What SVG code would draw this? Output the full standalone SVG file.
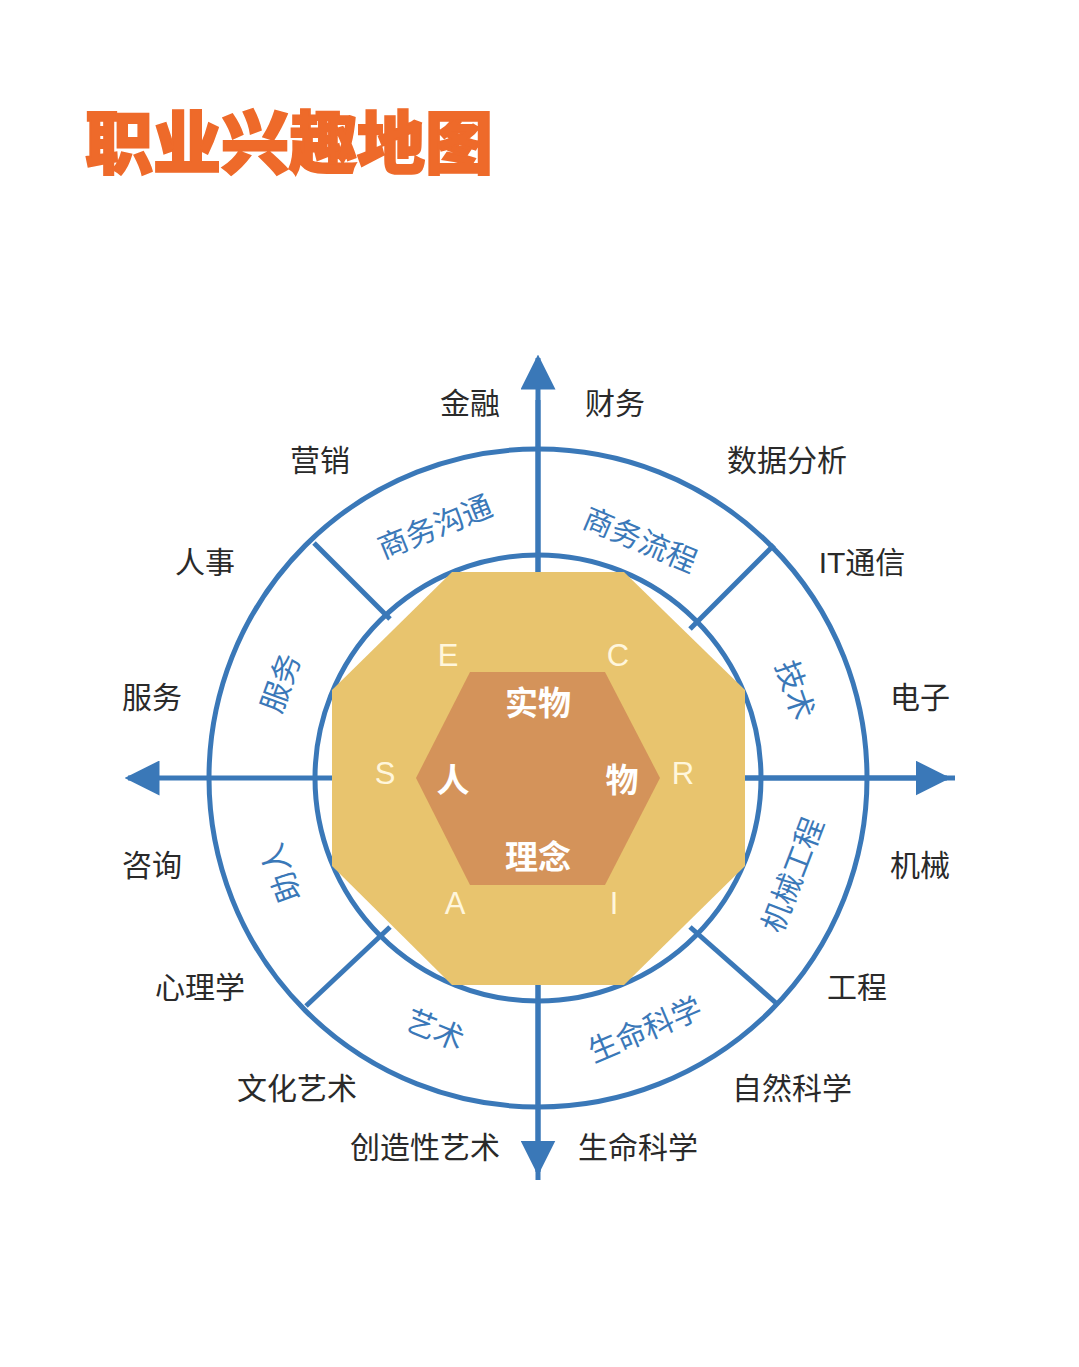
<svg xmlns="http://www.w3.org/2000/svg" width="1079" height="1367" viewBox="0 0 1079 1367">
<style>
.t{font-family:"Liberation Sans","Noto Sans CJK SC",sans-serif;}
.o{font-size:30px;fill:#2a2a2a;text-anchor:middle;dominant-baseline:central;}
.r{font-size:30px;fill:#3a78b8;text-anchor:middle;dominant-baseline:central;}
.l{font-size:31px;fill:#fff6dc;text-anchor:middle;dominant-baseline:central;}
.h{font-size:33px;fill:#fff;font-weight:bold;text-anchor:middle;dominant-baseline:central;}
.b{stroke:#3a78b8;stroke-width:5;fill:none;}
</style>
<defs>
<marker id="ar" viewBox="0 0 10 10" refX="9" refY="5" markerWidth="7" markerHeight="7" orient="auto" markerUnits="strokeWidth"><path d="M0,0L10,5L0,10z" fill="#3a78b8"/></marker>
</defs>
<rect width="1079" height="1367" fill="#fff"/>
<text class="t" x="85" y="168" font-size="68" font-weight="900" fill="#ee6a2a" stroke="#ee6a2a" stroke-width="2">职业兴趣地图</text>
<g id="connectors">
<circle class="b" cx="538" cy="778" r="329"/>
<circle class="b" cx="538" cy="778" r="223"/>
<line class="b" x1="538" y1="1180" x2="538" y2="358" marker-end="url(#ar)"/>
<line class="b" x1="538" y1="400" x2="538" y2="1172" marker-end="url(#ar)"/>
<line class="b" x1="955" y1="778" x2="128" y2="778" marker-end="url(#ar)"/>
<line class="b" x1="400" y1="778" x2="947" y2="778" marker-end="url(#ar)"/>
<line class="b" x1="314" y1="543" x2="390" y2="619"/>
<line class="b" x1="774" y1="545" x2="690" y2="629"/>
<line class="b" x1="776" y1="1003" x2="690" y2="927"/>
<line class="b" x1="306" y1="1006" x2="390" y2="927"/>
</g>
<g id="octagon"><polygon points="452,572 624,572 745,690 745,866 624,985 452,985 332,866 332,690" fill="#e8c46e"/></g>
<g id="hexagon"><polygon points="470,672 605,672 660,778 605,885 470,885 416,778" fill="#d4935a"/></g>
<g id="riasec" class="t">
<text class="l t" x="448" y="655">E</text>
<text class="l t" x="618" y="655">C</text>
<text class="l t" x="385" y="773">S</text>
<text class="l t" x="683" y="773">R</text>
<text class="l t" x="455" y="903">A</text>
<text class="l t" x="614" y="903">I</text>
</g>
<g id="core">
<text class="h t" x="538" y="703">实物</text>
<text class="h t" x="453" y="780">人</text>
<text class="h t" x="622" y="780">物</text>
<text class="h t" x="538" y="857">理念</text>
</g>
<g id="ring">
<text class="r t" transform="translate(435,527) rotate(-22)">商务沟通</text>
<text class="r t" transform="translate(640,540) rotate(23)">商务流程</text>
<text class="r t" transform="translate(795,690) rotate(71)">技术</text>
<text class="r t" transform="translate(793,875) rotate(-69)">机械工程</text>
<text class="r t" transform="translate(645,1030) rotate(-23)">生命科学</text>
<text class="r t" transform="translate(435,1030) rotate(22)">艺术</text>
<text class="r t" transform="translate(281,873) rotate(-110)">助人</text>
<text class="r t" transform="translate(281,683) rotate(-70)">服务</text>
</g>
<g id="outer">
<text class="o t" x="470" y="403">金融</text>
<text class="o t" x="615" y="403">财务</text>
<text class="o t" x="320" y="460">营销</text>
<text class="o t" x="787" y="460">数据分析</text>
<text class="o t" x="205" y="562">人事</text>
<text class="o t" x="862" y="562">IT通信</text>
<text class="o t" x="152" y="697">服务</text>
<text class="o t" x="920" y="697">电子</text>
<text class="o t" x="152" y="865">咨询</text>
<text class="o t" x="920" y="865">机械</text>
<text class="o t" x="200" y="987">心理学</text>
<text class="o t" x="857" y="987">工程</text>
<text class="o t" x="297" y="1088">文化艺术</text>
<text class="o t" x="792" y="1088">自然科学</text>
<text class="o t" x="425" y="1147">创造性艺术</text>
<text class="o t" x="638" y="1147">生命科学</text>
</g>
</svg>
